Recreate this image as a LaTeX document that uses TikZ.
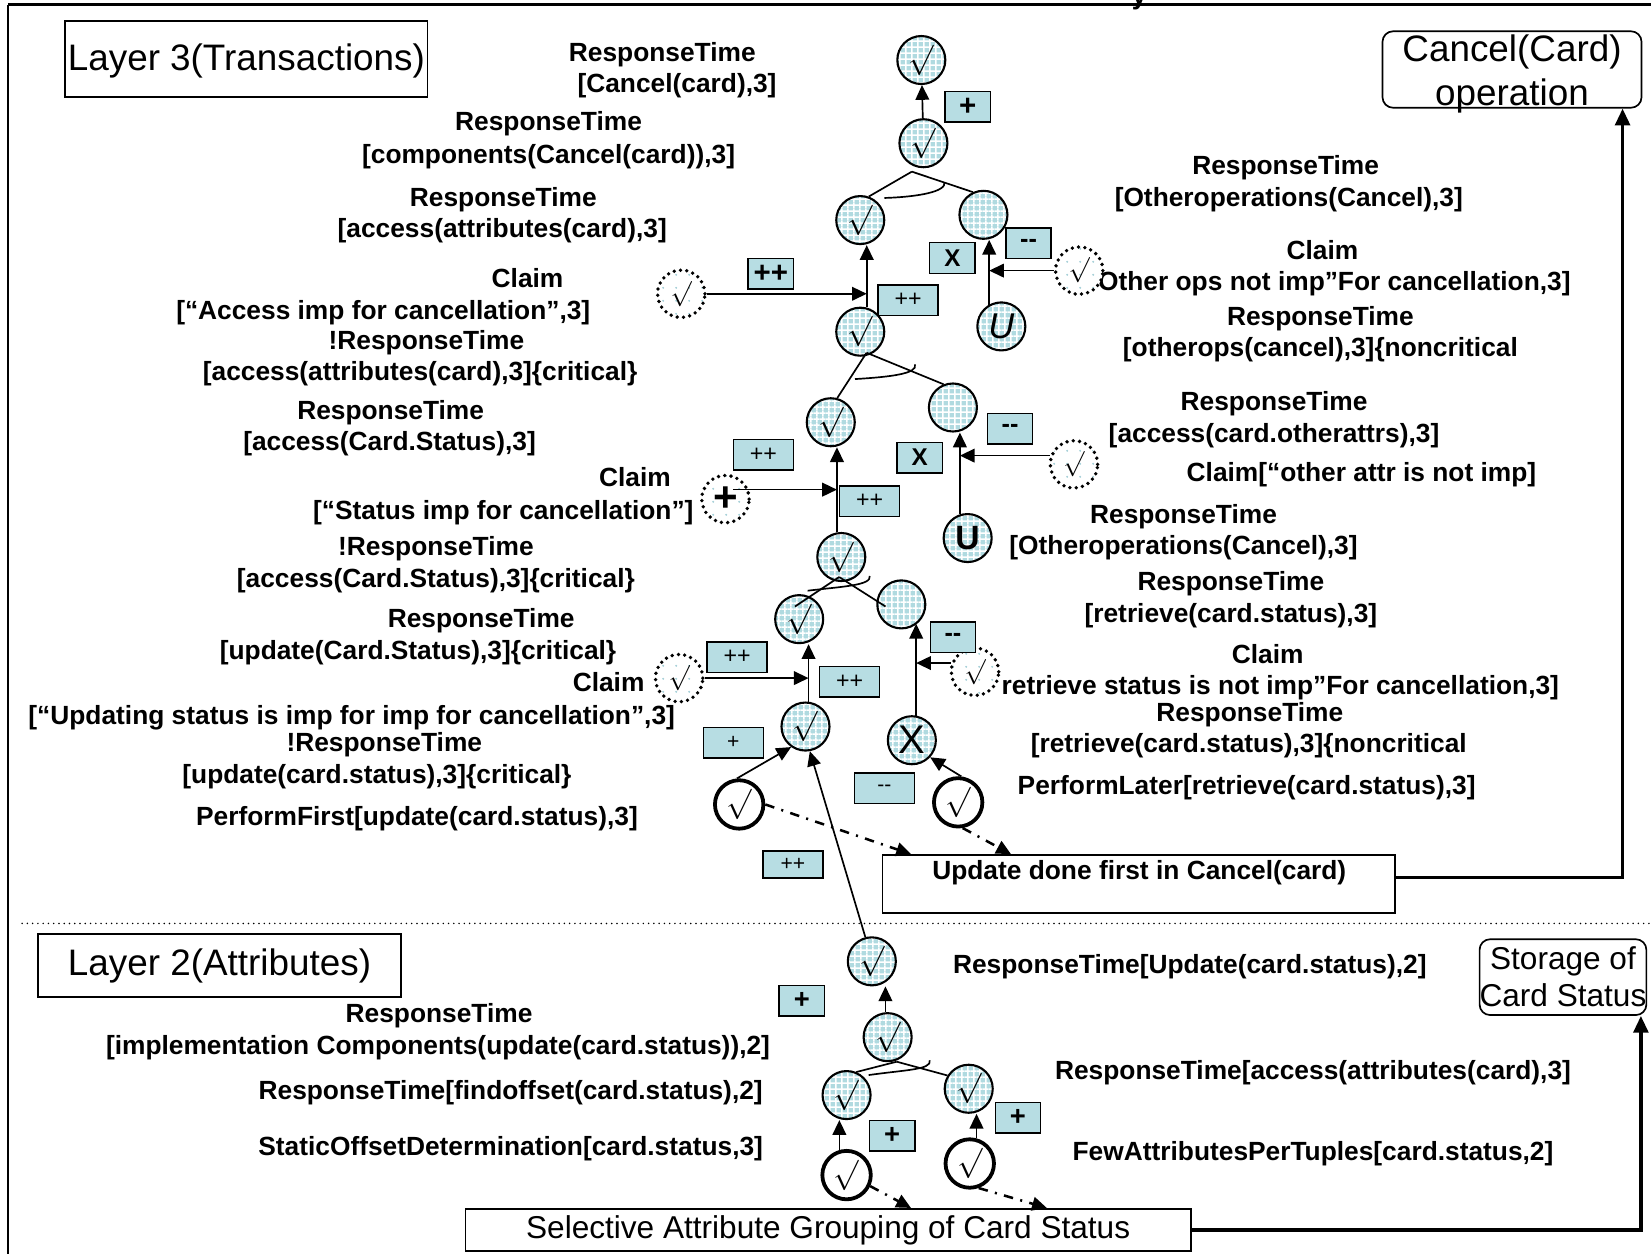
\documentclass[tikz,border=0pt]{standalone}
\usepackage{fontspec}
\setmainfont{Liberation Sans}
\usetikzlibrary{arrows.meta,patterns}
\pgfdeclarepatternformonly{softgrid}{\pgfqpoint{0pt}{0pt}}{\pgfqpoint{3pt}{3pt}}{\pgfqpoint{3pt}{3pt}}{%
  \pgfsetlinewidth{0.9pt}%
  \pgfpathmoveto{\pgfqpoint{0pt}{1.5pt}}\pgfpathlineto{\pgfqpoint{3pt}{1.5pt}}%
  \pgfpathmoveto{\pgfqpoint{1.5pt}{0pt}}\pgfpathlineto{\pgfqpoint{1.5pt}{3pt}}%
  \pgfusepath{stroke}}
\pgfdeclarepatternformonly{sparsedots}{\pgfqpoint{0pt}{0pt}}{\pgfqpoint{6pt}{6pt}}{\pgfqpoint{6pt}{6pt}}{%
  \pgfpathcircle{\pgfqpoint{3pt}{3pt}}{0.5pt}\pgfusepath{fill}}
\definecolor{gfill}{RGB}{176,218,224}
\definecolor{lfill}{RGB}{183,221,227}
\definecolor{dotc}{RGB}{160,205,214}
\begin{document}
\begin{tikzpicture}[x=0.5pt,y=-0.5pt,
  lbl/.style={font=\bfseries\fontsize{12.5}{15}\selectfont, inner sep=0pt, anchor=base},
  goal/.style={circle, preaction={fill=gfill}, preaction={pattern=softgrid, pattern color=white},
     draw, line width=1pt, minimum size=22.8pt, inner sep=0pt, font=\fontsize{14}{16}\selectfont},
  oper/.style={circle, draw, line width=1.8pt, minimum size=23pt, inner sep=0pt, fill=white,
     font=\fontsize{14}{16}\selectfont},
  claim/.style={circle, preaction={fill=white}, preaction={pattern=sparsedots, pattern color=dotc},
     draw, line width=1.8pt, dash pattern=on 0pt off 3pt, line cap=round,
     minimum size=22.5pt, inner sep=0pt, font=\fontsize{12}{14}\selectfont},
  lbox/.style={draw, line width=0.7pt, fill=lfill, inner sep=0pt, minimum width=21.5pt, minimum height=14.5pt},
  wbox/.style={lbox, minimum width=28.5pt},
  ln/.style={line width=0.8pt},
  arr/.style={-{Triangle[length=7pt,width=6.5pt]}, line width=0.8pt},
  bigarr/.style={-{Triangle[length=8pt,width=7pt]}, line width=1.7pt},
  dd/.style={-{Triangle[length=7pt,width=6.5pt]}, line width=1.2pt, dash pattern=on 4.5pt off 3.5pt on 1pt off 3.5pt},
  bigtxt/.style={font=\fontsize{17.5}{21}\selectfont}
]
\useasboundingbox (0,0) rectangle (1568,1191);

% frame and layer divider
\draw[line width=1.5pt] (7.5,4.5) -- (1568,4.5);
\draw[line width=0.8pt] (7.5,4.5) -- (7.5,1191);
\node[lbl] (ttl) at (1082,4) {y};
\draw[line width=0.8pt, dash pattern=on 0pt off 2.5pt, line cap=round] (21,877) -- (1568,877);

% boxes
\node[draw, line width=0.8pt, minimum width=172pt, minimum height=36pt, inner sep=0pt] (lay3) at (234,56) {};
\node[bigtxt, inner sep=0pt] (lay3t) at (234,58) {Layer 3(Transactions)};
\node[draw, line width=0.8pt, minimum width=172.5pt, minimum height=30pt, inner sep=0pt, bigtxt] (lay2) at (208.5,917) {Layer 2(Attributes)};
\node[draw, rounded corners=5pt, line width=0.8pt, minimum width=123pt, minimum height=36.3pt, inner sep=0pt] (cbox) at (1436,66) {};
\node[inner sep=0pt, align=center, bigtxt] (cboxt) at (1436,70) {Cancel(Card)\\operation};
\node[draw, rounded corners=5pt, line width=0.8pt, minimum width=78.8pt, minimum height=36pt, inner sep=0pt, align=center, font=\fontsize{15}{17.5}\selectfont] (stbox) at (1484.4,928) {Storage of\\Card Status};
\node[draw, line width=0.8pt, minimum width=243.5pt, minimum height=27.5pt, inner sep=0pt] (ubox) at (1081.5,839.5) {};
\node[lbl] (utxt) at (1082,835) {Update done first in Cancel(card)};
\node[draw, line width=0.8pt, minimum width=344.5pt, minimum height=20pt, inner sep=0pt, font=\fontsize{15}{18}\selectfont] (sbox) at (786.5,1168) {Selective Attribute Grouping of Card Status};

% labels, left
\node[lbl] (t1a) at (629,58) {ResponseTime};
\node[lbl] (t1b) at (643,88) {[Cancel(card),3]};
\node[lbl] (t2a) at (521,124) {ResponseTime};
\node[lbl] (t2b) at (521,155) {[components(Cancel(card)),3]};
\node[lbl] (t3a) at (478,196) {ResponseTime};
\node[lbl] (t3b) at (477,226) {[access(attributes(card),3]};
\node[lbl] (t4a) at (501,273) {Claim};
\node[lbl] (t4b) at (364,303) {[“Access imp for cancellation”,3]};
\node[lbl] (t4c) at (405,332) {!ResponseTime};
\node[lbl] (t4d) at (399,361) {[access(attributes(card),3]\{critical\}};
\node[lbl] (t5a) at (371,398) {ResponseTime};
\node[lbl] (t5b) at (370,428) {[access(Card.Status),3]};
\node[lbl] (t6a) at (603,462) {Claim};
\node[lbl] (t6b) at (478,493) {[“Status imp for cancellation”]};
\node[lbl] (t7a) at (414,528) {!ResponseTime};
\node[lbl] (t7b) at (414,558) {[access(Card.Status),3]\{critical\}};
\node[lbl] (t8a) at (457,596) {ResponseTime};
\node[lbl] (t8b) at (397,626) {[update(Card.Status),3]\{critical\}};
\node[lbl] (t9a) at (578,657) {Claim};
\node[lbl] (t9b) at (334,688) {[“Updating status is imp for imp for cancellation”,3]};
\node[lbl] (t10a) at (365,714) {!ResponseTime};
\node[lbl] (t10b) at (358,744) {[update(card.status),3]\{critical\}};
\node[lbl] (t11) at (396,784) {PerformFirst[update(card.status),3]};
% labels, right
\node[lbl] (t12a) at (1221,166) {ResponseTime};
\node[lbl] (t12b) at (1224,196) {[Otheroperations(Cancel),3]};
\node[lbl] (t13a) at (1256,246) {Claim};
\node[lbl, anchor=base east] (t13b) at (1492,276) {Other ops not imp”For cancellation,3]};
\node[lbl] (t14a) at (1254,309) {ResponseTime};
\node[lbl] (t14b) at (1254,339) {[otherops(cancel),3]\{noncritical};
\node[lbl] (t15a) at (1210,390) {ResponseTime};
\node[lbl] (t15b) at (1210,420) {[access(card.otherattrs),3]};
\node[lbl] (t16) at (1293,457) {Claim[“other attr is not imp]};
\node[lbl] (t17a) at (1124,497) {ResponseTime};
\node[lbl] (t17b) at (1124,527) {[Otheroperations(Cancel),3]};
\node[lbl] (t18a) at (1169,561) {ResponseTime};
\node[lbl] (t18b) at (1169,591) {[retrieve(card.status),3]};
\node[lbl] (t19a) at (1204,630) {Claim};
\node[lbl, anchor=base east] (t19b) at (1481,660) {retrieve status is not imp”For cancellation,3]};
\node[lbl] (t20a) at (1187,685) {ResponseTime};
\node[lbl] (t20b) at (1186,715) {[retrieve(card.status),3]\{noncritical};
\node[lbl] (t21) at (1184,755) {PerformLater[retrieve(card.status),3]};
% labels, layer 2
\node[lbl] (t22) at (1130,925) {ResponseTime[Update(card.status),2]};
\node[lbl] (t23a) at (417,971) {ResponseTime};
\node[lbl] (t23b) at (416,1001) {[implementation Components(update(card.status)),2]};
\node[lbl] (t24) at (485,1044) {ResponseTime[findoffset(card.status),2]};
\node[lbl] (t25) at (485,1097) {StaticOffsetDetermination[card.status,3]};
\node[lbl] (t26) at (1247,1025) {ResponseTime[access(attributes(card),3]};
\node[lbl] (t27) at (1247,1102) {FewAttributesPerTuples[card.status,2]};

% goals
\node[goal] (g1) at (875,57) {$\surd$};
\node[goal] (g2) at (877,136) {$\surd$};
\node[goal] (g3) at (817,209) {$\surd$};
\node[goal] (g4) at (934,204) {};
\node[goal, font=\itshape\fontsize{17}{18}\selectfont] (g5) at (951,310) {U};
\node[goal] (g6) at (817,315) {$\surd$};
\node[goal] (g7) at (789,401) {$\surd$};
\node[goal] (g8) at (905,387) {};
\node[goal, font=\bfseries\fontsize{16}{18}\selectfont] (g9) at (919,511) {U};
\node[goal] (g10) at (799,529) {$\surd$};
\node[goal] (g11) at (759,588) {$\surd$};
\node[goal] (g12) at (856,574) {};
\node[goal] (g13) at (765,690) {$\surd$};
\node[goal, font=\fontsize{19}{20}\selectfont] (g14) at (866,703) {X};
\node[goal] (g15) at (828,913) {$\surd$};
\node[goal] (g16) at (843,985) {$\surd$};
\node[goal] (g17) at (804,1040) {$\surd$};
\node[goal] (g18) at (920,1034) {$\surd$};

% operationalizations
\node[oper] (o1) at (702,764) {$\surd$};
\node[oper] (o2) at (910,762) {$\surd$};
\node[oper] (o3) at (804,1116) {$\surd$};
\node[oper] (o4) at (921,1105) {$\surd$};

% claims
\node[claim] (c1) at (647,279) {$\surd$};
\node[claim] (c2) at (1025,257) {$\surd$};
\node[claim, font=\bfseries\fontsize{20}{20}\selectfont] (c3) at (689,474) {+};
\node[claim] (c4) at (1020,441) {$\surd$};
\node[claim] (c5) at (645,644) {$\surd$};
\node[claim] (c6) at (926,638) {$\surd$};

% contribution labels
\node[lbox, font=\bfseries\fontsize{14}{14}\selectfont] (l1) at (919,101.5) {+};
\node[lbox, font=\bfseries\fontsize{14}{14}\selectfont] (l2) at (732,260) {++};
\node[wbox, font=\fontsize{11}{11}\selectfont] (l3) at (862.5,285) {++};
\node[lbox, font=\bfseries\fontsize{11.5}{11}\selectfont] (l4) at (904.5,245) {X};
\node[lbox, font=\bfseries\fontsize{12}{12}\selectfont] (l5) at (976.8,231) {-{}-};
\node[wbox, font=\fontsize{11}{11}\selectfont] (l6) at (725,432) {++};
\node[wbox, font=\fontsize{11}{11}\selectfont] (l7) at (826,476) {++};
\node[lbox, font=\bfseries\fontsize{11.5}{11}\selectfont] (l8) at (873.5,434.5) {X};
\node[lbox, font=\bfseries\fontsize{12}{12}\selectfont] (l9) at (959.3,407) {-{}-};
\node[wbox, font=\fontsize{11}{11}\selectfont] (l10) at (700,624) {++};
\node[wbox, font=\fontsize{11}{11}\selectfont] (l11) at (807,647.5) {++};
\node[lbox, font=\bfseries\fontsize{12}{12}\selectfont] (l12) at (905,605) {-{}-};
\node[wbox, font=\fontsize{10}{10}\selectfont] (l13) at (696.5,705.5) {+};
\node[wbox, font=\fontsize{10}{10}\selectfont] (l14) at (840,748.5) {-{}-};
\node[wbox, minimum height=13pt, font=\fontsize{10}{10}\selectfont] (l15) at (753,821) {++};
\node[lbox, font=\bfseries\fontsize{13}{13}\selectfont] (l16) at (761.5,950.5) {+};
\node[lbox, font=\bfseries\fontsize{13}{13}\selectfont] (l17) at (847.3,1078.5) {+};
\node[lbox, font=\bfseries\fontsize{13}{13}\selectfont] (l18) at (966.8,1061.4) {+};

% AND decompositions
\coordinate (a1) at (866,163);
\draw[ln] (a1) -- (g3.70);
\draw[ln] (a1) -- (g4.115);
\draw[ln] (840,188) .. controls (872,187) and (899,182) .. (897,173);
\coordinate (a2) at (823,335);
\draw[ln] (a2) -- (g7.75);
\draw[ln] (a2) -- (g8.112);
\draw[ln] (812,360) .. controls (845,358) and (872,355) .. (869,346);
\coordinate (a3) at (797,548);
\draw[ln] (a3) -- ([shift={(-4,-12)}]g11.center);
\draw[ln] (a3) -- ([shift={(-15,2)}]g12.center);
\draw[ln] (767,561) .. controls (800,557) and (828,556) .. (826,547);
\coordinate (a4) at (851.6,1008.3);
\draw[ln] (a4) -- (g17.67);
\draw[ln] (a4) -- (g18.148);
\draw[ln] (825,1021) .. controls (860,1016) and (885,1016) .. (883,1007);

% contributions
\draw[arr] (g2) -- (g1);
\draw[arr] (g6.75) -- (g6.75 |- g3.south);
\draw[arr] (c1.east) -- (c1.east -| g6.75);
\draw[arr] (g5.119) -- (g5.119 |- g4.south);
\draw[arr] (c2.west) -- (c2.west -| g5.119);
\draw[arr] (g10.100) -- (g10.100 |- g7.south);
\coordinate (c3o) at ([shift={(7,-9)}]c3.center);
\draw[arr] (c3o) -- (c3o -| g10.100);
\draw[arr] (g9.108) -- (g9.108 |- g8.south);
\draw[arr] (c4.160) -- (c4.160 -| g9.108);
\draw[arr] (g13.83) -- (g13.83 |- g11.south);
\draw[arr] (c5.east) -- (c5.east -| g13.83);
\draw[arr] (g14.80) -- (g14.80 |- g12.-51);
\draw[arr] (c6.160) -- (c6.160 -| g14.80);
\draw[arr] (o1.95) -- (g13.235);
\draw[arr] (g15.105) -- (g13.280);
\draw[arr] (o2.83) -- (g14.-43);
\draw[dd] (o1.east) -- ([shift={(28,0)}]ubox.north west);
\draw[dd] (o2.-80) -- ([shift={(123,0)}]ubox.north west);
\draw[arr] (g16.95) -- (g16.95 |- g15.south);
\draw[arr] (o3.106) -- (o3.106 |- g17.south);
\draw[arr] (o4.75) -- (o4.75 |- g18.south);
\draw[dd] (o3.-25) -- ([shift={(424,0)}]sbox.north west);
\draw[dd] (o4.-70) -- ([shift={(553,0)}]sbox.north west);
\draw[bigarr] ([shift={(0,-6)}]ubox.east) -| ([shift={(105,0)}]cbox.south);
\draw[bigarr] (sbox.east) -| ([shift={(74,0)}]stbox.south);
\end{tikzpicture}
\end{document}
